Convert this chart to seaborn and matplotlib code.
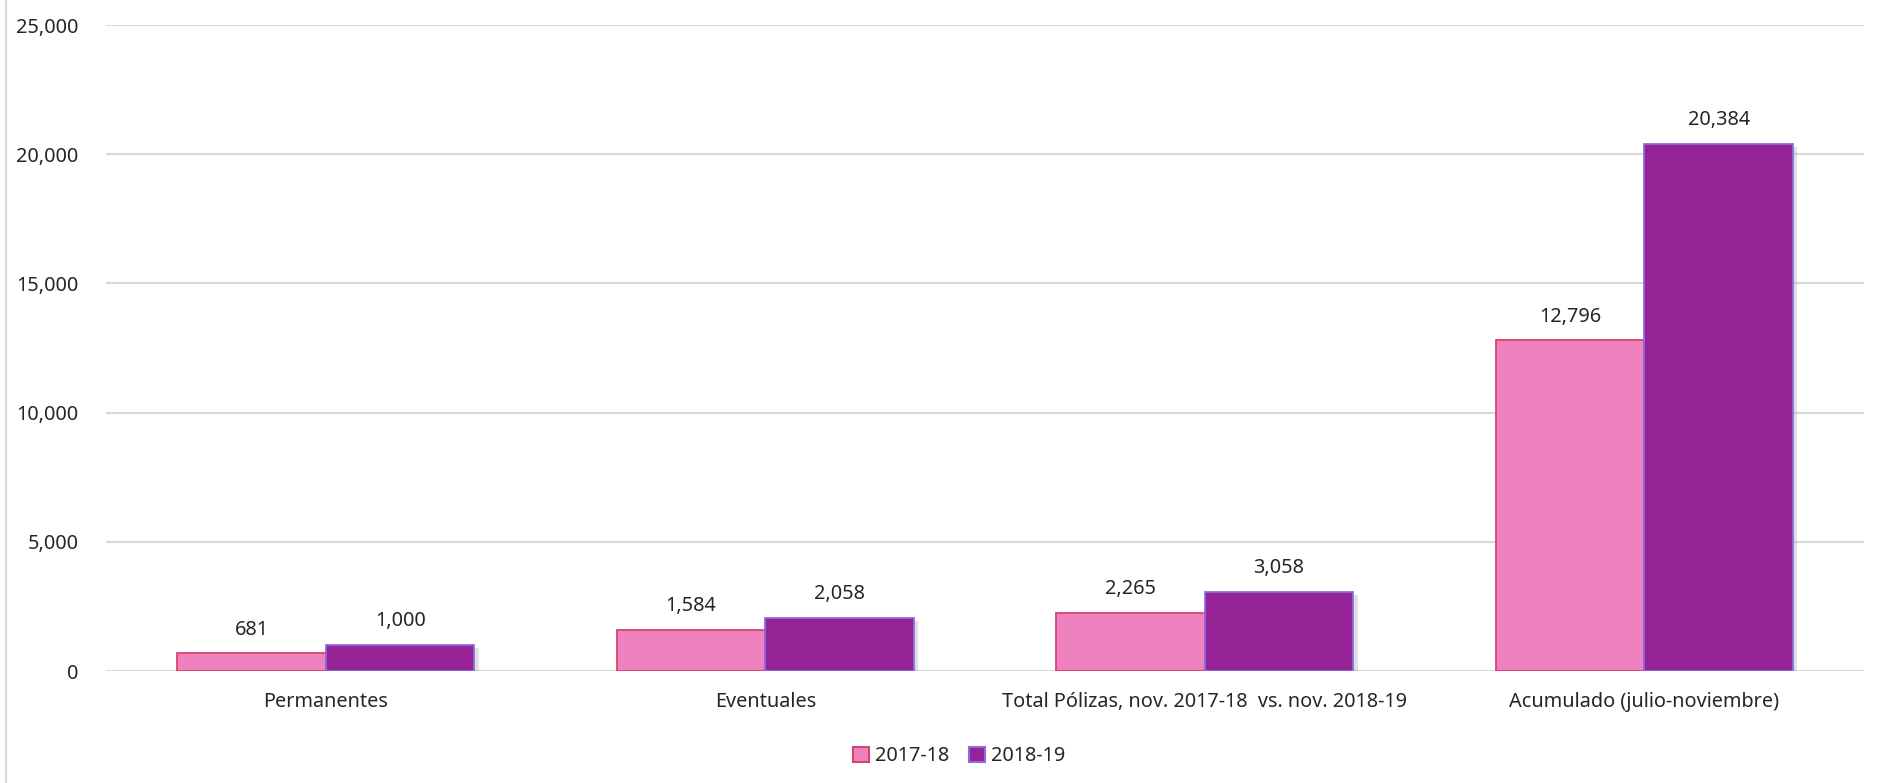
import pandas as pd
import seaborn as sb
import matplotlib.pyplot as plt
import matplotlib.patheffects as pe
from matplotlib.lines import Line2D

categorias = ['Permanentes', 'Eventuales', 'Total Pólizas, nov. 2017-18  vs. nov. 2018-19',
              'Acumulado (julio-noviembre)']
periodos = ['2017-18', '2018-19']
valores_1718 = [681, 1584, 2265, 12796]
valores_1819 = [1000, 2058, 3058, 20384]
yticks = [0, 5000, 10000, 15000, 20000, 25000]

colores = ['#EF82BE', '#952396']
bordes = ['#D6456E', '#8C6CE0']

df = pd.DataFrame({
    'categoria': categorias * 2,
    'periodo': [periodos[0]] * 4 + [periodos[1]] * 4,
    'valor': valores_1718 + valores_1819,
})

sb.set_style('white')
plt.rcParams['font.family'] = ['Noto Sans', 'DejaVu Sans']
fs = 14.3

fig = plt.figure(figsize=(18.81, 7.83), dpi=100)
ax = fig.add_axes([0.0564, 0.143, 0.9346, 0.825])

sb.barplot(data=df, x='categoria', y='valor', hue='periodo', palette=colores,
           width=0.676, gap=0, saturation=1, ax=ax, legend=True)

sombra = [pe.SimplePatchShadow(offset=(3, -2), shadow_rgbFace='#999999', alpha=0.3), pe.Normal()]
for cont, borde in zip(ax.containers, bordes):
    for p in cont:
        p.set_edgecolor(borde)
        p.set_linewidth(1.3)
        p.set_path_effects(sombra)
    ax.bar_label(cont, labels=[f'{v:,.0f}' for v in cont.datavalues], padding=10, fontsize=fs)

ax.set_ylim(0, 25000)
ax.set_yticks(yticks)
ax.set_yticklabels([f'{v:,}' for v in yticks], fontsize=fs)
ax.tick_params(axis='x', labelsize=fs, length=0, pad=15)
ax.tick_params(axis='y', length=0, pad=20)
ax.yaxis.grid(True, color='#D9D9D9', linewidth=1.5)
ax.set_axisbelow(True)
for s in ax.spines.values():
    s.set_visible(False)
ax.set_xlabel('')
ax.set_ylabel('')
ax.set_xlim(-0.5, 3.5)

handles, labels = ax.get_legend_handles_labels()
ax.get_legend().remove()
for h, borde in zip(handles, bordes):
    h.set_edgecolor(borde)
    h.set_linewidth(1.5)
fig.legend(handles, labels, loc='center', bbox_to_anchor=(0.51, 0.034), ncol=2, frameon=False,
           fontsize=fs, handlelength=0.8, handleheight=0.8, handletextpad=0.3, columnspacing=1.0)

fig.add_artist(Line2D([0.003, 0.003], [0, 1], transform=fig.transFigure, color='#D9D9D9', linewidth=1.5))

fig.savefig('out.png', dpi=100)
